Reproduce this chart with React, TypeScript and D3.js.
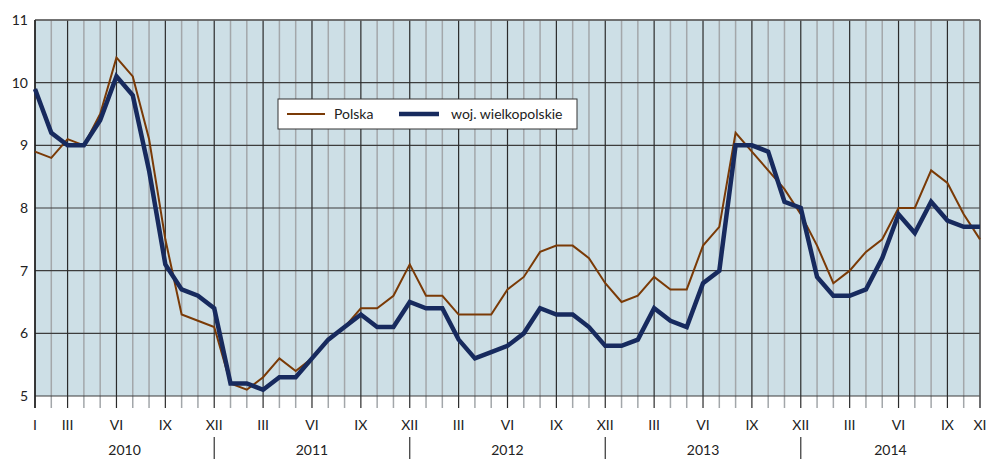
import React from "react";
import * as d3 from "d3";

const monthLabels = ["I","II","III","IV","V","VI","VII","VIII","IX","X","XI","XII"];
const years = ["2010","2011","2012","2013","2014"];
const polska = [
  8.9, 8.8, 9.1, 9.0, 9.5, 10.4, 10.1, 9.1, 7.5, 6.3, 6.2, 6.1,
  5.2, 5.1, 5.3, 5.6, 5.4, 5.6, 5.9, 6.1, 6.4, 6.4, 6.6, 7.1,
  6.6, 6.6, 6.3, 6.3, 6.3, 6.7, 6.9, 7.3, 7.4, 7.4, 7.2, 6.8,
  6.5, 6.6, 6.9, 6.7, 6.7, 7.4, 7.7, 9.2, 8.9, 8.6, 8.3, 7.9,
  7.4, 6.8, 7.0, 7.3, 7.5, 8.0, 8.0, 8.6, 8.4, 7.9, 7.5,
];
const wlkp = [
  9.9, 9.2, 9.0, 9.0, 9.4, 10.1, 9.8, 8.6, 7.1, 6.7, 6.6, 6.4,
  5.2, 5.2, 5.1, 5.3, 5.3, 5.6, 5.9, 6.1, 6.3, 6.1, 6.1, 6.5,
  6.4, 6.4, 5.9, 5.6, 5.7, 5.8, 6.0, 6.4, 6.3, 6.3, 6.1, 5.8,
  5.8, 5.9, 6.4, 6.2, 6.1, 6.8, 7.0, 9.0, 9.0, 8.9, 8.1, 8.0,
  6.9, 6.6, 6.6, 6.7, 7.2, 7.9, 7.6, 8.1, 7.8, 7.7, 7.7,
];
const yTicks = [5, 6, 7, 8, 9, 10, 11];
const seriesNames = ["Polska", "woj. wielkopolskie"];

const W = 991, H = 459;
const L = 35, R = 980, T = 20, B = 396;
const FONT = "Lato, 'Liberation Sans', Arial, sans-serif";

export default function App() {
  const n = polska.length;
  const x = d3.scaleLinear().domain([0, n - 1]).range([L, R]);
  const y = d3.scaleLinear().domain([5, 11]).range([B, T]);
  const line = d3.line<number>().x((_, i) => x(i)).y((d) => y(d));
  const idx = d3.range(n);
  const isMajor = (i: number) => {
    const m = i % 12;
    return i === 0 || m === 2 || m === 5 || m === 8 || m === 11;
  };
  const labelled = (i: number) => isMajor(i) || i === n - 1;

  return (
    <svg width={W} height={H} style={{ position: "absolute", left: 0, top: 0 }}>
      <rect x={L} y={T} width={R - L} height={B - T} fill="#cddfe6" />
      {idx.filter((i) => !isMajor(i)).map((i) => (
        <line key={"mv" + i} x1={x(i)} x2={x(i)} y1={T} y2={B + 12} stroke="#a3a7aa" strokeWidth={1.5} />
      ))}
      {yTicks.map((t) => (
        <line key={"h" + t} x1={L} x2={R} y1={y(t)} y2={y(t)} stroke="#3d3d3d" strokeWidth={1.2} />
      ))}
      {idx.filter((i) => isMajor(i)).map((i) => (
        <line key={"Mv" + i} x1={x(i)} x2={x(i)} y1={T} y2={B + 12} stroke="#2b2b2b" strokeWidth={1.2} />
      ))}
      <line x1={R} x2={R} y1={T} y2={B + 12} stroke="#555" strokeWidth={1.5} />
      <line x1={L} x2={R} y1={T} y2={T} stroke="#666" strokeWidth={1.5} />
      <line x1={L} x2={L} y1={T} y2={B + 12} stroke="#222" strokeWidth={1.5} />
      {yTicks.map((t) => (
        <text key={"yl" + t} x={28} y={y(t) + 5} textAnchor="end" fontFamily={FONT} fontSize={14} fill="#222">{t}</text>
      ))}
      {idx.filter(labelled).map((i) => (
        <text key={"ml" + i} x={x(i)} y={430} textAnchor="middle" fontFamily={FONT} fontSize={14} fill="#222">
          {monthLabels[i % 12]}
        </text>
      ))}
      {years.slice(0, -1).map((yr, k) => (
        <line key={"ys" + yr} x1={x(k * 12 + 11)} x2={x(k * 12 + 11)} y1={437} y2={459} stroke="#333" strokeWidth={1.2} />
      ))}
      {years.map((yr, k) => {
        const a = k === 0 ? 0 : k * 12 - 1;
        const b = Math.min(k * 12 + 11, n - 1);
        return (
          <text key={"yr" + yr} x={(x(a) + x(b)) / 2} y={455} textAnchor="middle" fontFamily={FONT} fontSize={14} fill="#222">{yr}</text>
        );
      })}
      <path d={line(polska) || ""} fill="none" stroke="#7a3a06" strokeWidth={2} strokeLinejoin="miter" />
      <path d={line(wlkp) || ""} fill="none" stroke="#172a5e" strokeWidth={4.5} strokeLinejoin="miter" />
      <rect x={278} y={99} width={299} height={30} fill="#fff" stroke="#333" strokeWidth={1} />
      <line x1={287} x2={325} y1={114} y2={114} stroke="#7a3a06" strokeWidth={2} />
      <text x={334} y={119} fontFamily={FONT} fontSize={14} fill="#222">{seriesNames[0]}</text>
      <line x1={399} x2={439} y1={114} y2={114} stroke="#172a5e" strokeWidth={4.5} />
      <text x={451} y={119} fontFamily={FONT} fontSize={14} fill="#222">{seriesNames[1]}</text>
    </svg>
  );
}
